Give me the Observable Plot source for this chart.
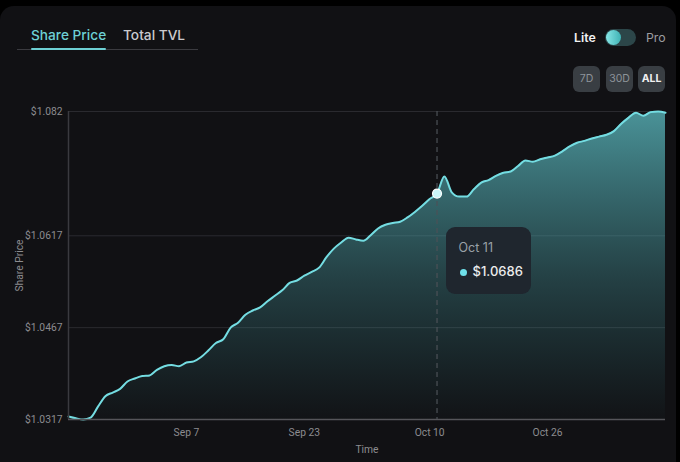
<!DOCTYPE html>
<html><head><meta charset="utf-8">
<script src="https://cdn.jsdelivr.net/npm/d3@7"></script>
<script src="https://cdn.jsdelivr.net/npm/@observablehq/plot@0.6"></script>
<style>
html,body{margin:0;padding:0;background:#000;}
body{width:680px;height:462px;overflow:hidden;position:relative;font-family:Inter,"Noto Sans",sans-serif;}
#card{position:absolute;left:0;top:6px;width:676px;height:480px;background:#111114;border-radius:14px;}
.abs{position:absolute;white-space:nowrap;}
#tabline{position:absolute;left:17px;top:49px;width:181px;height:1px;background:#3b3b40;}
#tabsel{position:absolute;left:31px;top:48px;width:75px;height:2px;background:#6dd0d4;border-radius:1px;}
.tab{font-size:13.7px;font-weight:500;top:27px;}
#toggle{position:absolute;left:605px;top:29px;width:31px;height:17px;border-radius:9px;background:#2c4649;}
#knob{position:absolute;left:1px;top:1px;width:15px;height:15px;border-radius:50%;background:linear-gradient(90deg,#86e6e6,#3fb2b4);}
.btn{position:absolute;top:66px;width:27px;height:26px;border-radius:6px;background:#393e43;color:#8d9399;font-size:10.5px;line-height:26px;text-align:center;}
#chart{position:absolute;left:0;top:100px;}
#tip{position:absolute;width:85px;height:67px;border-radius:9px;background:#1f262e;}
</style></head>
<body>
<div id="card"></div>
<div class="abs tab" style="left:31px;color:#6dd0d4;">Share Price</div>
<div class="abs tab" style="left:123px;color:#cacace;">Total TVL</div>
<div id="tabline"></div><div id="tabsel"></div>
<div class="abs" style="left:574px;top:30px;font-size:12.3px;font-weight:600;color:#f2f2f2;">Lite</div>
<div id="toggle"><div id="knob"></div></div>
<div class="abs" style="left:646px;top:30px;font-size:12.3px;color:#9c9ca0;">Pro</div>
<div class="btn" style="left:573px;">7D</div>
<div class="btn" style="left:606px;">30D</div>
<div class="btn" style="left:638px;color:#f0f0f0;font-weight:700;">ALL</div>
<div id="chart"></div>
<script>
// ---- data ----
const startDate = "2024-08-22"; // first daily point
const prices = [
  1.0322, 1.0319, 1.0317, 1.0320, 1.0338, 1.0355, 1.0361, 1.0367, 1.0379, 1.0384,
  1.0388, 1.0389, 1.0398, 1.0404, 1.0406, 1.0404, 1.0410, 1.0412, 1.0419, 1.0430,
  1.0442, 1.0448, 1.0467, 1.0475, 1.0488, 1.0495, 1.0500, 1.0510, 1.0519, 1.0528,
  1.0540, 1.0544, 1.0552, 1.0558, 1.0565, 1.0582, 1.0596, 1.0606, 1.0614, 1.0611,
  1.0609, 1.0618, 1.0629, 1.0635, 1.0638, 1.0640, 1.0647, 1.0656, 1.0666, 1.0677,
  1.0686, 1.0714, 1.0688, 1.0681, 1.0681, 1.0693, 1.0704, 1.0708, 1.0715, 1.0720,
  1.0722, 1.0731, 1.0740, 1.0738, 1.0742, 1.0745, 1.0748, 1.0755, 1.0763, 1.0769,
  1.0772, 1.0776, 1.0779, 1.0782, 1.0788, 1.0800, 1.0810, 1.0818, 1.0813, 1.0819,
  1.0820, 1.0818
];
const yTicks = [1.0317, 1.0467, 1.0617, 1.082];
const xTicks = ["2024-09-07", "2024-09-23", "2024-10-10", "2024-10-26"];
const tipDate = "2024-10-11";
const tipValue = 1.0686;
const xLabel = "Time";
const yLabel = "Share Price";

// ---- build ----
const start = new Date(startDate + "T00:00:00Z");
const data = prices.map((v, i) => ({date: d3.utcDay.offset(start, i), price: v}));
const tipD = new Date(tipDate + "T00:00:00Z");
const xTickDates = xTicks.map(s => new Date(s + "T00:00:00Z"));
const fmtDate = d3.utcFormat("%b %-d");
const fmtPrice = d => "$" + d;

const gradient = () => {
  const defs = d3.create("svg:defs");
  const g = defs.append("linearGradient").attr("id", "areaGrad")
    .attr("x1", 0).attr("y1", 0).attr("x2", 0).attr("y2", 1);
  g.append("stop").attr("offset", "0%").attr("stop-color", "#5ab7bd").attr("stop-opacity", 0.78);
  g.append("stop").attr("offset", "55%").attr("stop-color", "#4a9ea4").attr("stop-opacity", 0.33);
  g.append("stop").attr("offset", "100%").attr("stop-color", "#3a8c92").attr("stop-opacity", 0.02);
  return defs.node();
};

const yMin = yTicks[0], yMax = yTicks[yTicks.length - 1];
const chart = Plot.plot({
  width: 680,
  height: 362,
  marginTop: 11,
  marginBottom: 43,
  marginLeft: 68,
  marginRight: 15,
  style: {background: "transparent", fontFamily: "Roboto, sans-serif", fontSize: "10.3px", color: "#8c8c90"},
  x: {type: "utc", domain: [data[0].date, data[data.length - 1].date]},
  y: {domain: [yMin, yMax]},
  marks: [
    gradient,
    Plot.ruleY(yTicks.slice(1), {stroke: "#2a2a2f", strokeWidth: 1}),
    Plot.areaY(data, {x: "date", y1: yMin, y2: "price", curve: "monotone-x", fill: "url(#areaGrad)"}),
    Plot.lineY(data, {x: "date", y: "price", curve: "monotone-x", stroke: "#74dde2", strokeWidth: 2}),
    Plot.ruleX([tipD], {stroke: "#4c5157", strokeWidth: 1.2, strokeDasharray: "5,4"}),
    Plot.ruleY([yMin], {stroke: "#55555a", strokeWidth: 1.5}),
    Plot.ruleX([data[0].date], {stroke: "#3a3a3f", strokeWidth: 1.5}),
    Plot.dot([{date: tipD, price: tipValue}], {x: "date", y: "price", r: 4.5, fill: "#c9f5f7", stroke: "#ffffff", strokeWidth: 1.2}),
    Plot.axisX({ticks: xTickDates, tickFormat: fmtDate, tickSize: 0, tickPadding: 9, label: xLabel, labelAnchor: "center", labelArrow: "none", labelOffset: 33, fill: "#8c8c90"}),
    Plot.axisY({ticks: yTicks, tickFormat: fmtPrice, tickSize: 0, tickPadding: 6, label: yLabel, labelAnchor: "center", labelArrow: "none", labelOffset: 53, fill: "#8c8c90"})
  ]
});
document.getElementById("chart").appendChild(chart);

// tooltip placed from the chart's own scales
const sx = chart.scale("x"), sy = chart.scale("y");
const px = sx.apply(tipD), py = sy.apply(tipValue);
const tip = document.createElement("div");
tip.id = "tip";
tip.style.left = (px + 9) + "px";
tip.style.top = (100 + py + 34) + "px";
tip.innerHTML = `<div class="abs" style="left:13px;top:13px;font-size:12.5px;color:#9aa1a8;">${fmtDate(tipD)}</div>
<div class="abs" style="left:14px;top:42px;width:7px;height:7px;border-radius:50%;background:#6fe0ea;"></div>
<div class="abs" style="left:27px;top:36px;font-size:13px;font-weight:500;color:#ececec;">${fmtPrice(tipValue)}</div>`;
document.body.appendChild(tip);
</script>
</body></html>
